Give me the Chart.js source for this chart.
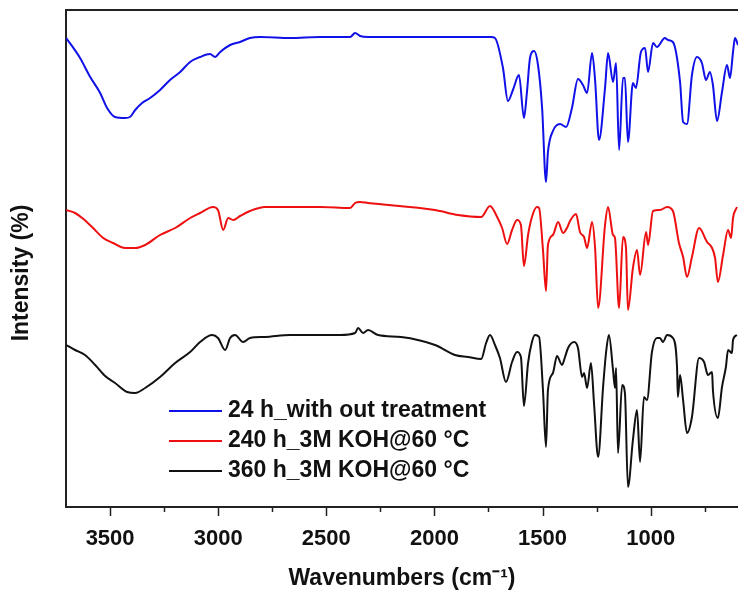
<!DOCTYPE html>
<html>
<head>
<meta charset="utf-8">
<script src="https://cdn.jsdelivr.net/npm/chart.js@4.4.1/dist/chart.umd.min.js"></script>
<style>
  html, body { margin: 0; padding: 0; background: #fff; }
  #wrap { width: 738px; height: 594px; }
</style>
</head>
<body>
<div id="wrap"><canvas id="grafico"></canvas></div>
<script>
/* ================= DADOS ================= */
// wavenumbers (cm-1) and intensity (arbitrary, stacked offsets)
const blueWn  = [3703,3639,3592,3546,3514,3477,3431,3408,3384,3352,3315,3269,3223,3176,3130,3084,3038,3014,2991,2945,2899,2853,2806,2668,2529,2390,2367,2344,2307,2154,1997,1845,1738,1720,1683,1660,1637,1609,1586,1572,1558,1539,1521,1502,1484,1475,1452,1419,1391,1364,1336,1313,1294,1271,1257,1239,1211,1197,1174,1160,1146,1128,1119,1105,1082,1068,1045,1026,1012,989,971,934,920,897,864,850,832,809,786,763,744,726,712,693,670,647,633,619,610,596];
const blueVal = [469,449,430,414,399,390,389,390,397,404,409,417,427,435,445,450,453,450,455,462,465,469,470,469,470,470,474,471,470,470,470,470,470,469,439,406,417,432,389,415,449,456,442,399,325,355,376,383,380,399,428,422,414,454,427,367,419,454,425,444,357,429,429,365,424,419,455,459,435,464,460,469,467,465,425,385,383,432,450,444,427,435,422,386,415,442,429,455,469,462];

const redWn  = [3703,3662,3629,3579,3532,3486,3431,3384,3338,3269,3199,3130,3084,3024,3001,2977,2954,2931,2899,2853,2783,2668,2529,2390,2367,2344,2307,1997,1891,1784,1743,1710,1687,1664,1641,1618,1600,1586,1567,1549,1526,1516,1498,1484,1475,1452,1428,1405,1387,1373,1345,1327,1308,1294,1271,1257,1243,1211,1197,1174,1165,1146,1128,1114,1105,1082,1063,1049,1021,1012,989,957,924,897,869,850,832,809,776,739,716,702,689,665,642,628,619,601];
const redVal = [297,294,289,279,269,264,259,259,262,272,279,289,294,300,297,277,289,287,291,296,300,300,300,299,304,305,304,297,292,290,301,290,279,263,277,287,282,241,272,290,300,299,257,216,262,272,285,274,279,286,293,275,270,259,285,259,199,282,300,272,269,199,270,259,197,239,257,232,275,262,296,297,300,296,264,250,230,250,279,265,259,249,225,252,277,269,289,300];

const blackWn  = [3703,3662,3616,3569,3523,3477,3421,3384,3338,3269,3199,3130,3084,3028,3001,2968,2945,2922,2885,2853,2783,2668,2436,2367,2353,2330,2307,2261,2154,1997,1905,1845,1784,1761,1743,1720,1697,1669,1641,1618,1600,1586,1567,1549,1535,1516,1498,1484,1475,1452,1433,1410,1396,1382,1354,1336,1317,1308,1294,1276,1262,1243,1220,1206,1193,1174,1165,1160,1151,1132,1119,1105,1082,1063,1049,1031,1017,994,971,957,943,924,897,878,874,864,850,832,809,776,753,735,716,712,689,670,652,642,624,619,601];
const blackVal = [162,157,152,142,131,124,115,114,119,130,144,155,165,172,169,157,169,172,165,169,170,172,172,174,179,174,177,172,170,162,152,150,148,164,172,162,149,125,145,155,150,101,144,165,172,170,117,60,117,134,151,142,150,159,165,159,130,134,119,144,104,50,120,155,172,137,119,139,54,122,114,20,67,97,45,110,107,155,169,169,165,172,169,140,110,132,107,74,90,149,145,132,135,117,89,120,140,157,154,167,172];

const seriesLabels = ["24 h_with out treatment", "240 h_3M KOH@60 \u00b0C", "360 h_3M KOH@60 \u00b0C"];
const seriesColors = ["#1010e8", "#ee1010", "#111111"];
const xTicks = [750,1000,1250,1500,1750,2000,2250,2500,2750,3000,3250,3500];

/* ================= HELPERS ================= */
function pares(wn, val) {
  return wn.map((w, i) => ({ x: w, y: val[i] }));
}

const fonte = "Arial, 'Liberation Sans', sans-serif";

/* ================= PLUGIN: ticks, moldura, titulo Y e legenda ================= */
const extras = {
  id: "extras",
  afterDraw(chart) {
    const ctx = chart.ctx;
    const a = chart.chartArea;
    const xs = chart.scales.x;
    ctx.save();
    ctx.strokeStyle = "#222";
    ctx.lineWidth = 2;
    // top frame line
    ctx.beginPath();
    ctx.moveTo(a.left - 1, a.top);
    ctx.lineTo(a.right, a.top);
    ctx.stroke();
    // tick marks (major 500, minor 250)
    ctx.lineWidth = 1.5;
    xTicks.forEach(v => {
      const px = Math.round(xs.getPixelForValue(v)) + 0.5;
      const len = v % 500 === 0 ? 9 : 5;
      ctx.beginPath();
      ctx.moveTo(px, a.bottom);
      ctx.lineTo(px, a.bottom + len);
      ctx.stroke();
    });
    // y title
    ctx.fillStyle = "#111";
    ctx.font = "bold 23px " + fonte;
    ctx.textAlign = "center";
    ctx.textBaseline = "middle";
    ctx.translate(22, 273);
    ctx.rotate(-Math.PI / 2);
    ctx.fillText("Intensity (%)", 0, 0);
    ctx.setTransform(1, 0, 0, 1, 0, 0);
    // legend
    ctx.textAlign = "left";
    seriesLabels.forEach((lab, i) => {
      const y = 411 + i * 30;
      ctx.strokeStyle = seriesColors[i];
      ctx.lineWidth = 2;
      ctx.beginPath();
      ctx.moveTo(169, y);
      ctx.lineTo(222, y);
      ctx.stroke();
      ctx.fillText(lab, 228, y);
    });
    ctx.restore();
  }
};

/* ================= GRÁFICO ================= */
const dados = [
  pares(blueWn, blueVal),
  pares(redWn, redVal),
  pares(blackWn, blackVal)
];

new Chart(document.getElementById("grafico"), {
  type: "line",
  data: {
    datasets: dados.map((d, i) => ({
      label: seriesLabels[i],
      data: d,
      borderColor: seriesColors[i],
      borderWidth: 2,
      pointRadius: 0,
      cubicInterpolationMode: "monotone",
      fill: false
    }))
  },
  options: {
    responsive: true,
    maintainAspectRatio: false,
    animation: false,
    layout: { padding: { top: 10, right: 0, left: 0, bottom: 0 } },
    plugins: { legend: { display: false }, tooltip: { enabled: false } },
    scales: {
      x: {
        type: "linear",
        reverse: true,
        min: 596,
        max: 3704,
        afterBuildTicks: s => { s.ticks = xTicks.map(v => ({ value: v })); },
        afterFit: s => { s.height = 87; },
        ticks: {
          autoSkip: false,
          maxRotation: 0,
          padding: 19,
          color: "#111",
          font: { family: fonte, size: 22, weight: "bold" },
          callback: v => (v % 500 === 0 ? String(v) : "")
        },
        grid: { drawOnChartArea: false, drawTicks: false },
        border: { display: true, color: "#222", width: 2 },
        title: {
          display: true,
          text: "Wavenumbers (cm\u207b\u00b9)",
          color: "#111",
          font: { family: fonte, size: 23, weight: "bold" },
          padding: { top: 0, bottom: 2 }
        }
      },
      y: {
        min: 0,
        max: 497,
        afterFit: s => { s.width = 66; },
        ticks: { display: false },
        grid: { drawOnChartArea: false, drawTicks: false },
        border: { display: true, color: "#222", width: 2 }
      }
    }
  },
  plugins: [extras]
});
</script>
</body>
</html>
